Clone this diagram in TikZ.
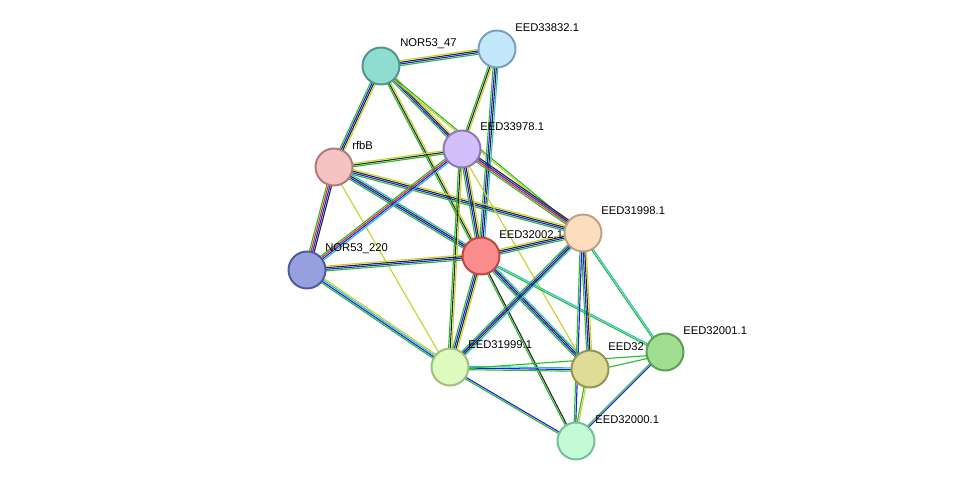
\documentclass[tikz,border=0pt]{standalone}
\usepackage{fontspec}
\setmainfont{Liberation Sans}
\usetikzlibrary{calc}
\definecolor{cgreen}{RGB}{40,190,40}
\definecolor{cblue}{RGB}{30,30,230}
\definecolor{cyell}{RGB}{200,210,40}
\definecolor{ccyan}{RGB}{40,190,210}
\definecolor{cred}{RGB}{230,40,40}
\definecolor{cblack}{RGB}{40,40,40}
\tikzset{
  prot/.style={circle, minimum size=37*0.025cm, inner sep=0pt, line width=1.4pt},
  lbl/.style={anchor=west, inner sep=0pt, font=\fontsize{8}{9}\selectfont},
  strand/.style={line width=0.8pt},
}
% bundle of parallel lines between two proteins
\newcommand{\edge}[3]{%
  \foreach \c [count=\i] in {#3}{%
    \pgfmathsetmacro{\off}{(\i-2.5)*1.15}
    \draw[strand,\c] ($(#1)!\off pt!90:(#2)$) -- ($(#2)!\off pt!-90:(#1)$);
  }}
\begin{document}
\begin{tikzpicture}[x=0.025cm,y=-0.025cm]
    \useasboundingbox (0,0) rectangle (976,487);
    \coordinate (n47) at (381,66);
    \coordinate (n832) at (497,49);
    \coordinate (n978) at (462,149);
    \coordinate (rfb) at (334,167);
    \coordinate (n998) at (583,233);
    \coordinate (n002) at (481,256);
    \coordinate (n220) at (307,270);
    \coordinate (n001) at (665,352);
    \coordinate (n999) at (450,367);
    \coordinate (n003) at (590,369);
    \coordinate (n000) at (576,441);
    % edges
    \edge{n47}{n832}{cgreen,cblue,cblack,cyell}
    \edge{n47}{rfb}{cgreen,cblue,cblack,cyell}
    \edge{n47}{n978}{cgreen,cblue,cblack,cyell}
    \edge{n47}{n002}{cgreen,cblack,cyell}
    \edge{n47}{n998}{cyell,cgreen}
    \edge{n832}{n978}{cgreen,cblack,cyell}
    \edge{n832}{n002}{cgreen,cblue,cblack,ccyan}
    \edge{rfb}{n978}{cgreen,cblack,cyell}
    \edge{rfb}{n220}{cgreen,cred,cblue,cblack}
    \edge{rfb}{n002}{cgreen,cblue,cblack,ccyan}
    \edge{rfb}{n998}{cgreen,cblue,cblack,cyell}
    \edge{rfb}{n999}{cyell}
    \edge{n978}{n220}{cgreen,cred,cblue,ccyan}
    \edge{n978}{n002}{cgreen,cblue,cblack,cyell}
    \edge{n978}{n998}{cgreen,cred,cblue,cblack}
    \edge{n978}{n999}{cgreen,cblack,cyell}
    \edge{n978}{n003}{cyell}
    \edge{n220}{n002}{cgreen,cblue,cblack,cyell}
    \edge{n220}{n999}{cgreen,cblue,ccyan,cyell}
    \edge{n002}{n998}{cgreen,cblue,cblack,cyell}
    \edge{n002}{n999}{cgreen,cblue,cblack,cyell}
    \edge{n002}{n003}{cgreen,cblue,cblack,ccyan}
    \edge{n002}{n001}{cgreen,ccyan}
    \edge{n002}{n000}{cgreen,cblack}
    \edge{n998}{n999}{cgreen,cblue,cblack,ccyan}
    \edge{n998}{n003}{cgreen,cblue,cblack,cyell}
    \edge{n998}{n001}{cgreen,ccyan}
    \edge{n998}{n000}{cgreen,cblue}
    \edge{n999}{n003}{cgreen,cblue,ccyan}
    \edge{n999}{n001}{cgreen}
    \edge{n999}{n000}{cgreen,cblue}
    \edge{n003}{n001}{cgreen}
    \edge{n003}{n000}{cgreen,cyell}
    \edge{n001}{n000}{cgreen,cblue}
    % proteins
    \node[prot, fill={rgb,255:red,143;green,220;blue,208}, draw={rgb,255:red,80;green,150;blue,140}] (p47) at (n47) {};
    \node[prot, fill={rgb,255:red,195;green,232;blue,250}, draw={rgb,255:red,120;green,160;blue,190}] (p832) at (n832) {};
    \node[prot, fill={rgb,255:red,210;green,190;blue,250}, draw={rgb,255:red,140;green,120;blue,180}] (p978) at (n978) {};
    \node[prot, fill={rgb,255:red,245;green,195;blue,195}, draw={rgb,255:red,180;green,120;blue,120}] (prfb) at (rfb) {};
    \node[prot, fill={rgb,255:red,252;green,222;blue,190}, draw={rgb,255:red,190;green,160;blue,130}] (p998) at (n998) {};
    \node[prot, fill={rgb,255:red,250;green,140;blue,140}, draw={rgb,255:red,190;green,70;blue,70}] (p002) at (n002) {};
    \node[prot, fill={rgb,255:red,150;green,160;blue,222}, draw={rgb,255:red,80;green,90;blue,160}] (p220) at (n220) {};
    \node[prot, fill={rgb,255:red,160;green,222;blue,145}, draw={rgb,255:red,90;green,160;blue,80}] (p001) at (n001) {};
    \node[prot, fill={rgb,255:red,222;green,250;blue,190}, draw={rgb,255:red,160;green,190;blue,130}] (p999) at (n999) {};
    \node[prot, fill={rgb,255:red,222;green,220;blue,150}, draw={rgb,255:red,150;green,150;blue,80}] (p003) at (n003) {};
    \node[prot, fill={rgb,255:red,195;green,250;blue,215}, draw={rgb,255:red,120;green,190;blue,150}] (p000) at (n000) {};
    % labels
    \node[lbl] (l47) at ($(n47)+(19,-22)$) {NOR53\_47};
    \node[lbl] (l832) at ($(n832)+(18,-21)$) {EED33832.1};
    \node[lbl] (l978) at ($(n978)+(18,-22)$) {EED33978.1};
    \node[lbl] (lrfb) at ($(rfb)+(18,-22)$) {rfbB};
    \node[lbl] (l998) at ($(n998)+(18,-22)$) {EED31998.1};
    \node[lbl] (l002) at ($(n002)+(18,-21)$) {EED32002.1};
    \node[lbl] (l220) at ($(n220)+(18,-21)$) {NOR53\_220};
    \node[lbl] (l001) at ($(n001)+(18,-21)$) {EED32001.1};
    \node[lbl] (l999) at ($(n999)+(18,-22)$) {EED31999.1};
    \node[lbl] (l003) at ($(n003)+(18,-22)$) {EED32};
    \node[lbl] (l000) at ($(n000)+(19,-21)$) {EED32000.1};
\end{tikzpicture}
\end{document}
